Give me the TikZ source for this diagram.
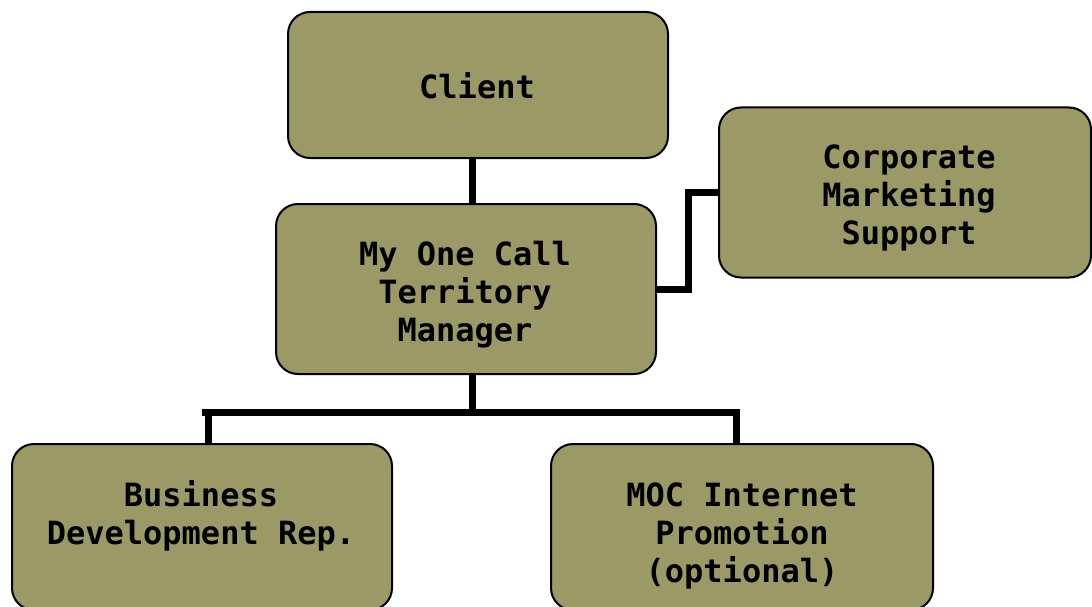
\documentclass[tikz,border=0pt]{standalone}
\usepackage{fontspec}
\setmonofont{DejaVu Sans Mono}
\definecolor{olive}{RGB}{155,153,102}
\begin{document}
\begin{tikzpicture}[x=1pt,y=-1pt,
  box/.style={draw=black,line width=2pt,fill=olive,rounded corners=22pt,inner sep=0pt},
  conn/.style={draw=black,line width=7pt,line join=miter},
  txt/.style={font=\fontsize{32}{38}\selectfont\ttfamily\bfseries,anchor=base,inner sep=0pt}]
\useasboundingbox (0,0) rectangle (1092,607);
% boxes
\node[box,minimum width=380pt,minimum height=146pt] (client) at (478,85) {};
\node[box,minimum width=380pt,minimum height=170pt] (mgr) at (466,289) {};
\node[box,minimum width=372pt,minimum height=170pt] (corp) at (905,192.5) {};
\node[box,minimum width=380pt,minimum height=166pt] (bdr) at (202,527) {};
\node[box,minimum width=382pt,minimum height=166pt] (moc) at (742,527) {};
% texts
\node[txt] (t1) at (477,99) {Client};
\node[txt] (t2a) at (465,265) {My One Call};
\node[txt] (t2b) at (465,303) {Territory};
\node[txt] (t2c) at (465,341) {Manager};
\node[txt] (t3a) at (909,168) {Corporate};
\node[txt] (t3b) at (909,206) {Marketing};
\node[txt] (t3c) at (909,244) {Support};
\node[txt] (t4a) at (201,506) {Business};
\node[txt] (t4b) at (201,544) {Development Rep.};
\node[txt] (t5a) at (742,506) {MOC Internet};
\node[txt] (t5b) at (742,544) {Promotion};
\node[txt] (t5c) at (742,582) {(optional)};
% connectors
\coordinate (trunk) at (472,412.5);
\coordinate (lx) at (208,0);
\coordinate (rx) at (736.5,0);
\coordinate (elbow) at (688.5,0);
\coordinate (barl) at (202,412.5);
\coordinate (barr) at (740,412.5);
\draw[conn] (client.south -| trunk) -- (mgr.north -| trunk);
\draw[conn] (mgr.south -| trunk) -- (trunk);
\draw[conn] (barl) -- (barr);
\draw[conn] (bdr.north -| lx) -- (lx |- barl);
\draw[conn] (moc.north -| rx) -- (rx |- barr);
\draw[conn] (mgr.east) -- (mgr.east -| elbow) |- (corp.west);
\end{tikzpicture}
\end{document}
